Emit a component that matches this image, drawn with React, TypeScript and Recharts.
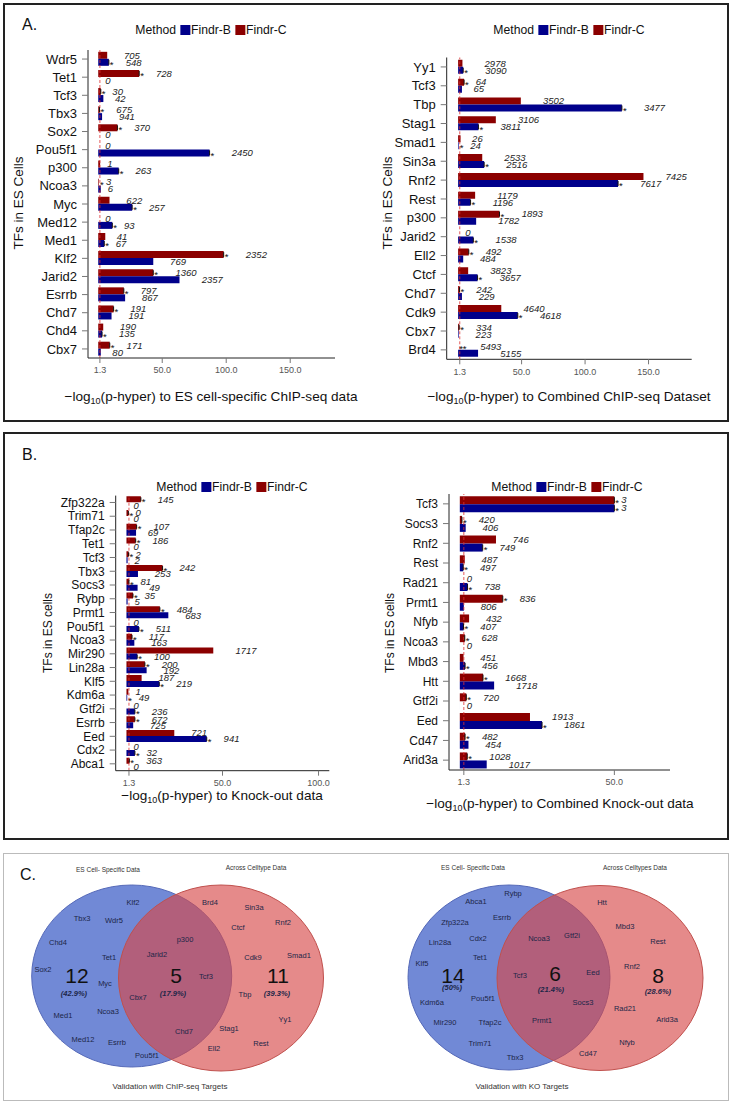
import React from 'react';
import {
  BarChart,
  Bar,
  XAxis,
  YAxis,
  ReferenceLine,
  LabelList,
  ScatterChart,
  Scatter,
} from 'recharts';

// ---- Panel A, left: ES cell-specific ChIP-seq ----
const aLeftTFs = ['Wdr5', 'Tet1', 'Tcf3', 'Tbx3', 'Sox2', 'Pou5f1', 'p300', 'Ncoa3', 'Myc', 'Med12', 'Med1', 'Klf2', 'Jarid2', 'Esrrb', 'Chd7', 'Chd4', 'Cbx7'];
const aLeftC = [7, 32, 2, 1, 15, 0, 1.5, 0.5, 8.8, 0, 5.5, 98, 43, 20, 12, 3.9, 9];
const aLeftB = [8.3, 0, 4, 3, 0, 87, 16, 2, 26.5, 11, 4.7, 43, 63.5, 21, 10.4, 3, 2];
const aLeftCN = [705, 728, 30, 675, 370, 0, 1, 3, 622, 0, 41, 2352, 1360, 797, 191, 190, 171];
const aLeftBN = [548, 0, 42, 941, 0, 2450, 263, 6, 257, 93, 67, 769, 2357, 867, 191, 135, 80];
const aLeftCS = [0, 1, 1, 1, 1, 0, 0, 1, 0, 0, 0, 1, 1, 1, 1, 0, 1];
const aLeftBS = [1, 0, 0, 0, 0, 1, 1, 0, 1, 1, 1, 0, 0, 0, 0, 1, 0];

// ---- Panel A, right: combined ChIP-seq ----
const aRightTFs = ['Yy1', 'Tcf3', 'Tbp', 'Stag1', 'Smad1', 'Sin3a', 'Rnf2', 'Rest', 'p300', 'Jarid2', 'Ell2', 'Ctcf', 'Chd7', 'Cdk9', 'Cbx7', 'Brd4'];
const aRightC = [3.4, 4.7, 49.4, 29.7, 1.9, 19, 146, 13.4, 32.6, 0, 8.4, 7.9, 1.1, 34, 0.8, 0];
const aRightB = [4, 3, 129, 16, 0.5, 20.5, 126, 9.8, 14.2, 12, 4, 15.3, 3, 47, 0.5, 15.7];
const aRightCN = [2978, 64, 3502, 3106, 26, 2533, 7425, 1179, 1893, 0, 492, 3823, 242, 4640, 334, 5493];
const aRightBN = [3090, 65, 3477, 3811, 24, 2516, 7617, 1196, 1782, 1538, 484, 3657, 229, 4618, 223, 5155];
const aRightCS = [0, 1, 0, 0, 0, 0, 0, 0, 1, 0, 1, 0, 1, 0, 1, 2];
const aRightBS = [1, 0, 1, 1, 1, 1, 1, 1, 0, 1, 0, 1, 0, 1, 0, 0];

// ---- Panel B, left: knock-out data ----
const bLeftTFs = ['Zfp322a', 'Trim71', 'Tfap2c', 'Tet1', 'Tcf3', 'Tbx3', 'Socs3', 'Rybp', 'Prmt1', 'Pou5f1', 'Ncoa3', 'Mir290', 'Lin28a', 'Klf5', 'Kdm6a', 'Gtf2i', 'Esrrb', 'Eed', 'Cdx2', 'Abca1'];
const bLeftC = [7.5, 1, 5.3, 4.8, 1.1, 18.8, 1.3, 3.4, 17.4, 0, 2.9, 45.2, 9.6, 7.9, 1, 0, 4.4, 24.9, 0, 1.5];
const bLeftB = [0, 0, 5, 0, 0.6, 6, 5.8, 0.6, 21.8, 6.5, 4.1, 5.6, 10.5, 17.1, 0.4, 4.4, 3.5, 41.8, 4.4, 0];
const bLeftCN = [145, 0, 107, 186, 2, 242, 81, 35, 484, 0, 117, 1717, 200, 187, 1, 0, 672, 721, 0, 363];
const bLeftBN = [0, 0, 69, 0, 2, 253, 49, 5, 683, 511, 163, 100, 192, 219, 49, 236, 725, 941, 32, 0];
const bLeftCS = [1, 1, 1, 1, 1, 1, 1, 1, 1, 0, 1, 0, 1, 0, 0, 0, 1, 0, 0, 1];
const bLeftBS = [0, 0, 0, 0, 0, 0, 0, 0, 0, 1, 0, 1, 0, 1, 1, 1, 0, 1, 1, 0];

// ---- Panel B, right: combined knock-out data ----
const bRightTFs = ['Tcf3', 'Socs3', 'Rnf2', 'Rest', 'Rad21', 'Prmt1', 'Nfyb', 'Ncoa3', 'Mbd3', 'Htt', 'Gtf2i', 'Eed', 'Cd47', 'Arid3a'];
const bRightC = [50, 0.7, 11.7, 1.6, 0, 13.9, 3, 1.6, 1.2, 7.5, 2.1, 22.7, 1.7, 2.4];
const bRightB = [50, 1.9, 7.4, 1.1, 2.5, 1.3, 1.2, 0, 1.7, 11.1, 0, 26.6, 2.8, 8.7];
const bRightCN = [3, 420, 746, 487, 0, 836, 432, 628, 451, 1668, 720, 1913, 482, 1028];
const bRightBN = [3, 406, 749, 497, 738, 806, 407, 0, 456, 1718, 0, 1861, 454, 1017];
const bRightCS = [1, 1, 0, 0, 0, 1, 0, 1, 0, 1, 1, 0, 1, 1];
const bRightBS = [1, 0, 1, 1, 1, 0, 1, 0, 1, 0, 0, 1, 0, 0];

// ---- Panel C: Venn overlaps ----
const vennChipCounts = ['12', '5', '11'];
const vennChipPct = ['(42.9%)', '(17.9%)', '(39.3%)'];
const vennKoCounts = ['14', '6', '8'];
const vennKoPct = ['(50%)', '(21.4%)', '(28.6%)'];

const BLUE = '#00008b';
const RED = '#8b0000';
const FONT = '"Liberation Sans", Arial, Helvetica, sans-serif';

type Row = { tf: string; b: number; c: number; bn: number; cn: number; bs: number; cs: number };

const buildRows = (tfs: string[], b: number[], c: number[], bn: number[], cn: number[], bs: number[], cs: number[]): Row[] =>
  tfs.map((tf, i) => ({ tf, b: b[i], c: c[i], bn: bn[i], cn: cn[i], bs: bs[i], cs: cs[i] }));

const makeLabel = (rows: Row[], which: 'b' | 'c', fs: number) => (p: any) => {
  const x = Number(p.x);
  const y = Number(p.y);
  const w = Math.max(Number(p.width) || 0, 0);
  const h = Number(p.height) || 0;
  const r = rows.find((row) => row.tf === p.value);
  if (!r) return null;
  const txt = String(which === 'b' ? r.bn : r.cn);
  const stars = which === 'b' ? r.bs : r.cs;
  const end = x + w;
  const cy = y + h / 2;
  const tw = Math.max(txt.length * fs * 0.556, 6);
  return (
    <g>
      {stars > 0 && w > 1 ? (
        <line x1={end} x2={end} y1={y + 1} y2={y + h - 1} stroke="#111" strokeWidth={1} />
      ) : null}
      {stars > 0 ? (
        <text x={end + 1} y={cy + fs * 0.6} fontSize={fs} fill="#111">
          {'*'.repeat(stars)}
        </text>
      ) : null}
      <text x={end + tw + 1} y={cy + fs * 0.35} fontSize={fs} fontStyle="italic" fill="#222">
        {txt}
      </text>
    </g>
  );
};

interface HBarProps {
  rows: Row[];
  left: number;
  top: number;
  width: number;
  height: number;
  plot: [number, number, number, number];
  domain: [number, number];
  ticks: number[];
  gap: string;
  yFont: number;
}

function HBar({ rows, left, top, width, height, plot, domain, ticks, gap, yFont }: HBarProps) {
  const margin = { top: plot[1] - top, right: left + width - plot[2], left: 0, bottom: 0 };
  return (
    <div style={{ position: 'absolute', left, top }}>
      <BarChart
        layout="vertical"
        width={width}
        height={height}
        data={rows}
        margin={margin}
        barCategoryGap={gap}
        barGap={0}
      >
        <XAxis
          type="number"
          domain={domain}
          ticks={ticks}
          allowDataOverflow
          height={top + height - plot[3]}
          tickFormatter={(v: number) => v.toFixed(1)}
          tick={{ fontSize: 9, fill: '#555' }}
          tickSize={5}
          tickMargin={4}
          axisLine={{ stroke: '#222' }}
          tickLine={{ stroke: '#777' }}
        />
        <YAxis
          type="category"
          dataKey="tf"
          width={plot[0] - left}
          interval={0}
          tick={{ fontSize: yFont, fill: '#111' }}
          tickSize={6}
          tickMargin={5}
          axisLine={{ stroke: '#222' }}
          tickLine={{ stroke: '#777' }}
        />
        <ReferenceLine x={1.3} stroke="#e03030" strokeDasharray="3 2" strokeWidth={0.8} />
        <Bar dataKey="c" fill={RED} minPointSize={0.01} isAnimationActive={false}>
          <LabelList dataKey="tf" content={makeLabel(rows, 'c', 9.5)} />
        </Bar>
        <Bar dataKey="b" fill={BLUE} minPointSize={0.01} isAnimationActive={false}>
          <LabelList dataKey="tf" content={makeLabel(rows, 'b', 9.5)} />
        </Bar>
      </BarChart>
    </div>
  );
}

const Square = ({ color }: { color: string }) => (
  <span style={{ display: 'inline-block', width: 10, height: 10, background: color, margin: '0 1px 0 4px' }} />
);

const MethodLegend = ({ cx, cy }: { cx: number; cy: number }) => (
  <div
    style={{
      position: 'absolute',
      left: cx,
      top: cy,
      transform: 'translate(-50%, -50%)',
      display: 'flex',
      alignItems: 'center',
      fontSize: 12.2,
      whiteSpace: 'nowrap',
      color: '#111',
    }}
  >
    <span>Method</span>
    <Square color={BLUE} />
    <span>Findr-B</span>
    <Square color={RED} />
    <span>Findr-C</span>
  </div>
);

const XTitle = ({ cx, cy, text }: { cx: number; cy: number; text: string }) => (
  <div
    style={{
      position: 'absolute',
      left: cx,
      top: cy,
      transform: 'translate(-50%, -50%)',
      fontSize: 13.6,
      whiteSpace: 'nowrap',
      color: '#111',
    }}
  >
    {'\u2212log'}
    <span style={{ fontSize: 9, verticalAlign: -3, lineHeight: 0 }}>10</span>
    {'(p-hyper) to ' + text}
  </div>
);

const YTitle = ({ cx, cy, text, fs }: { cx: number; cy: number; text: string; fs: number }) => (
  <div
    style={{
      position: 'absolute',
      left: cx,
      top: cy,
      transform: 'translate(-50%, -50%) rotate(-90deg)',
      fontSize: fs,
      whiteSpace: 'nowrap',
      color: '#111',
    }}
  >
    {text}
  </div>
);

const PanelLetter = ({ x, y, text }: { x: number; y: number; text: string }) => (
  <div style={{ position: 'absolute', left: x, top: y, fontSize: 16, color: '#111' }}>{text}</div>
);

// ---- Venn layout (page coordinates) ----
const vennEllipsesBlue = [
  { x: 131.7, y: 976, rx: 100, ry: 91 },
  { x: 509, y: 977.5, rx: 101, ry: 92.5 },
];
const vennEllipsesRed = [
  { x: 221, y: 978, rx: 102.5, ry: 93 },
  { x: 600, y: 978, rx: 103, ry: 92.5 },
];

type VText = { x: number; y: number; t: string; k: 'gene' | 'big' | 'pct' | 'head' | 'cap' };

const vennTexts: VText[] = [
  { x: 108, y: 869, t: 'ES Cell- Specific Data', k: 'head' },
  { x: 256, y: 867, t: 'Across Celltype Data', k: 'head' },
  { x: 133, y: 902, t: 'Klf2', k: 'gene' },
  { x: 82, y: 918, t: 'Tbx3', k: 'gene' },
  { x: 114, y: 920, t: 'Wdr5', k: 'gene' },
  { x: 58, y: 942, t: 'Chd4', k: 'gene' },
  { x: 109, y: 957, t: 'Tet1', k: 'gene' },
  { x: 43, y: 969, t: 'Sox2', k: 'gene' },
  { x: 77, y: 975, t: vennChipCounts[0], k: 'big' },
  { x: 105, y: 983, t: 'Myc', k: 'gene' },
  { x: 74, y: 993, t: vennChipPct[0], k: 'pct' },
  { x: 63, y: 1015, t: 'Med1', k: 'gene' },
  { x: 108, y: 1011, t: 'Ncoa3', k: 'gene' },
  { x: 83, y: 1039, t: 'Med12', k: 'gene' },
  { x: 117, y: 1042, t: 'Esrrb', k: 'gene' },
  { x: 147, y: 1055, t: 'Pou5f1', k: 'gene' },
  { x: 210, y: 902, t: 'Brd4', k: 'gene' },
  { x: 254, y: 907, t: 'Sin3a', k: 'gene' },
  { x: 283, y: 922, t: 'Rnf2', k: 'gene' },
  { x: 238, y: 927, t: 'Ctcf', k: 'gene' },
  { x: 185, y: 939, t: 'p300', k: 'gene' },
  { x: 157, y: 954, t: 'Jarid2', k: 'gene' },
  { x: 253, y: 957, t: 'Cdk9', k: 'gene' },
  { x: 299, y: 955, t: 'Smad1', k: 'gene' },
  { x: 176, y: 975, t: vennChipCounts[1], k: 'big' },
  { x: 206, y: 976, t: 'Tcf3', k: 'gene' },
  { x: 278, y: 975, t: vennChipCounts[2], k: 'big' },
  { x: 138, y: 997, t: 'Cbx7', k: 'gene' },
  { x: 173, y: 993, t: vennChipPct[1], k: 'pct' },
  { x: 245, y: 994, t: 'Tbp', k: 'gene' },
  { x: 277, y: 993, t: vennChipPct[2], k: 'pct' },
  { x: 285, y: 1019, t: 'Yy1', k: 'gene' },
  { x: 184, y: 1031, t: 'Chd7', k: 'gene' },
  { x: 229, y: 1028, t: 'Stag1', k: 'gene' },
  { x: 261, y: 1043, t: 'Rest', k: 'gene' },
  { x: 214, y: 1048, t: 'Ell2', k: 'gene' },
  { x: 170, y: 1086, t: 'Validation with ChIP-seq Targets', k: 'cap' },

  { x: 473, y: 867, t: 'ES Cell- Specific Data', k: 'head' },
  { x: 635, y: 867, t: 'Across Celltypes Data', k: 'head' },
  { x: 513, y: 893, t: 'Rybp', k: 'gene' },
  { x: 476, y: 901, t: 'Abca1', k: 'gene' },
  { x: 502, y: 917, t: 'Esrrb', k: 'gene' },
  { x: 455, y: 922, t: 'Zfp322a', k: 'gene' },
  { x: 478, y: 938, t: 'Cdx2', k: 'gene' },
  { x: 440, y: 942, t: 'Lin28a', k: 'gene' },
  { x: 480, y: 957, t: 'Tet1', k: 'gene' },
  { x: 422, y: 963, t: 'Klf5', k: 'gene' },
  { x: 453, y: 975, t: vennKoCounts[0], k: 'big' },
  { x: 452, y: 987, t: vennKoPct[0], k: 'pct' },
  { x: 432, y: 1002, t: 'Kdm6a', k: 'gene' },
  { x: 483, y: 998, t: 'Pou5f1', k: 'gene' },
  { x: 445, y: 1022, t: 'Mir290', k: 'gene' },
  { x: 490, y: 1022, t: 'Tfap2c', k: 'gene' },
  { x: 480, y: 1043, t: 'Trim71', k: 'gene' },
  { x: 515, y: 1057, t: 'Tbx3', k: 'gene' },
  { x: 539, y: 938, t: 'Ncoa3', k: 'gene' },
  { x: 572, y: 935, t: 'Gtf2i', k: 'gene' },
  { x: 520, y: 975, t: 'Tcf3', k: 'gene' },
  { x: 555, y: 973, t: vennKoCounts[1], k: 'big' },
  { x: 593, y: 972, t: 'Eed', k: 'gene' },
  { x: 551, y: 989, t: vennKoPct[1], k: 'pct' },
  { x: 583, y: 1002, t: 'Socs3', k: 'gene' },
  { x: 542, y: 1020, t: 'Prmt1', k: 'gene' },
  { x: 602, y: 902, t: 'Htt', k: 'gene' },
  { x: 625, y: 926, t: 'Mbd3', k: 'gene' },
  { x: 658, y: 941, t: 'Rest', k: 'gene' },
  { x: 632, y: 966, t: 'Rnf2', k: 'gene' },
  { x: 658, y: 975, t: vennKoCounts[2], k: 'big' },
  { x: 658, y: 991, t: vennKoPct[2], k: 'pct' },
  { x: 625, y: 1008, t: 'Rad21', k: 'gene' },
  { x: 667, y: 1019, t: 'Arid3a', k: 'gene' },
  { x: 627, y: 1042, t: 'Nfyb', k: 'gene' },
  { x: 588, y: 1053, t: 'Cd47', k: 'gene' },
  { x: 522, y: 1086, t: 'Validation with KO Targets', k: 'cap' },
];

const ellipseShape = (fill: string, stroke: string) => (p: any) => (
  <ellipse cx={p.cx} cy={p.cy} rx={p.payload.rx} ry={p.payload.ry} fill={fill} stroke={stroke} strokeWidth={1} />
);

const textShape = (p: any) => {
  const d: VText = p.payload;
  const style: Record<string, any> = {
    gene: { fontSize: 7.5, fill: '#1c2648' },
    big: { fontSize: 21, fill: '#111' },
    pct: { fontSize: 7.5, fill: '#1c2648', fontWeight: 'bold', fontStyle: 'italic' },
    head: { fontSize: 6.5, fill: '#333' },
    cap: { fontSize: 8, fill: '#333' },
  }[d.k];
  return (
    <text x={p.cx} y={p.cy} textAnchor="middle" dominantBaseline="central" {...style}>
      {d.t}
    </text>
  );
};

function VennPanel() {
  return (
    <div style={{ position: 'absolute', left: 0, top: 853 }}>
      <ScatterChart width={734} height={251} margin={{ top: 0, right: 0, bottom: 0, left: 0 }}>
        <XAxis type="number" dataKey="x" domain={[0, 734]} allowDataOverflow hide />
        <YAxis type="number" dataKey="y" domain={[853, 1104]} reversed allowDataOverflow hide />
        <Scatter data={vennEllipsesBlue} shape={ellipseShape('#7189d6', '#5569b8')} isAnimationActive={false} />
        <Scatter
          data={vennEllipsesRed}
          shape={ellipseShape('rgba(214,72,72,0.64)', '#c0504d')}
          isAnimationActive={false}
        />
        <Scatter data={vennTexts} shape={textShape} isAnimationActive={false} />
      </ScatterChart>
    </div>
  );
}

const boxStyle = (top: number, height: number, color: string, bw: number): React.CSSProperties => ({
  position: 'absolute',
  left: 3,
  top,
  width: 726,
  height,
  border: `${bw}px solid ${color}`,
  boxSizing: 'border-box',
});

export default function App() {
  const aLeft = buildRows(aLeftTFs, aLeftB, aLeftC, aLeftBN, aLeftCN, aLeftBS, aLeftCS);
  const aRight = buildRows(aRightTFs, aRightB, aRightC, aRightBN, aRightCN, aRightBS, aRightCS);
  const bLeft = buildRows(bLeftTFs, bLeftB, bLeftC, bLeftBN, bLeftCN, bLeftBS, bLeftCS);
  const bRight = buildRows(bRightTFs, bRightB, bRightC, bRightBN, bRightCN, bRightBS, bRightCS);

  return (
    <div
      style={{
        position: 'absolute',
        left: 0,
        top: 0,
        width: 734,
        height: 1104,
        background: '#fff',
        fontFamily: FONT,
        overflow: 'hidden',
      }}
    >
      <div style={boxStyle(3, 419, '#222', 2)} />
      <div style={boxStyle(432, 408, '#222', 2)} />
      <div style={boxStyle(853, 248, '#bbb', 1)} />

      <PanelLetter x={22} y={16} text="A." />
      <PanelLetter x={22} y={446} text="B." />
      <PanelLetter x={20} y={866} text="C." />

      <MethodLegend cx={211} cy={30} />
      <MethodLegend cx={569} cy={30} />
      <MethodLegend cx={232} cy={487} />
      <MethodLegend cx={567} cy={487} />

      <HBar rows={aLeft} left={0} top={0} width={370} height={420} plot={[88, 50, 335, 358]} domain={[-8, 185]} ticks={[1.3, 50, 100, 150]} gap="10%" yFont={13} />
      <HBar rows={aRight} left={370} top={0} width={364} height={420} plot={[446.7, 57.5, 691.7, 359.3]} domain={[-9, 184]} ticks={[1.3, 50, 100, 150]} gap="12%" yFont={13} />
      <HBar rows={bLeft} left={0} top={430} width={370} height={410} plot={[115.7, 495.6, 329.3, 770.7]} domain={[-5.6, 105.6]} ticks={[1.3, 50, 100]} gap="5%" yFont={12} />
      <HBar rows={bRight} left={370} top={430} width={364} height={410} plot={[449, 494, 670, 770]} domain={[-3.5, 68]} ticks={[1.3, 50]} gap="11%" yFont={12} />

      <YTitle cx={18} cy={203} text="TFs in ES Cells" fs={13.5} />
      <YTitle cx={387} cy={203} text="TFs in ES Cells" fs={13.5} />
      <YTitle cx={48} cy={633} text="TFs in ES cells" fs={12} />
      <YTitle cx={390} cy={633} text="TFs in ES cells" fs={12} />

      <XTitle cx={211} cy={396} text="ES cell-specific ChIP-seq data" />
      <XTitle cx={569} cy={396} text="Combined ChIP-seq Dataset" />
      <XTitle cx={222} cy={795} text="Knock-out data" />
      <XTitle cx={560} cy={803} text="Combined Knock-out data" />

      <VennPanel />
    </div>
  );
}
